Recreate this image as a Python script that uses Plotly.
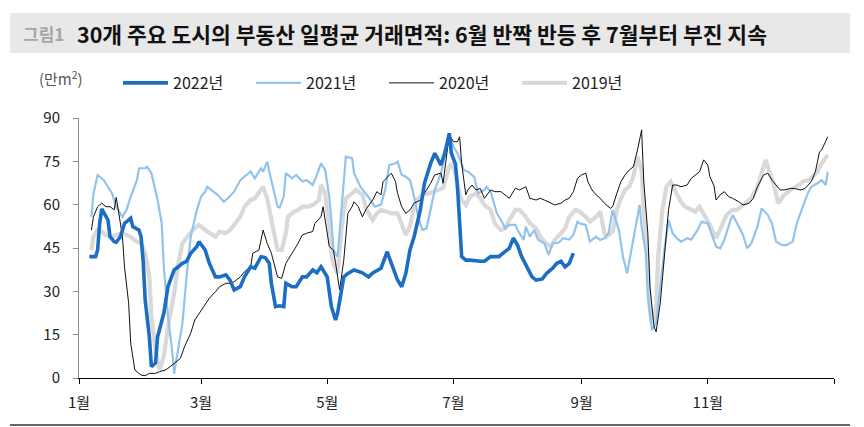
import plotly.graph_objects as go

# x = day of year (0 = Jan 1), y = 만m²
s2022 = [(5,42),(8,42),(9,44.3),(10,53.6),(11,58.5),(13,55.8),(14,54.7),(15,48.9),(17,47.2),(18,47),
         (20,48.9),(22,53.5),(25,55.3),(26,52.4),(29,51.2),(30,48.9),(31,40.8),(32,27),(34,14.3),(35,3.9),
         (37,5.2),(38,14.3),(41,22.4),(43,31.6),(46,37.4),(48,38.5),(50,39.7),(52,40.4),(54,43.2),(57,45.5),
         (58,47.2),(61,44.3),(63,39.7),(66,35),(68,35),(71,35.7),(73,33.9),(75,30.5),(78,31.6),(80,35),
         (83,38.5),(85,38),(88,42),(90,41.7),(92,39.7),(93,32.8),(95,24.7),(97,25),(99,24.7),(100,32.8),
         (103,31.6),(105,31.6),(108,35),(110,35),(113,37.4),(115,36.4),(117,38.5),(120,35),(122,24.7),(124,20.1),
         (125,22.4),(128,35),(130,36.2),(133,37.4),(135,36.9),(137,36.4),(140,35),(142,36.4),(146,38),(149,43.7),
         (151,39.7),(154,33.9),(156,31.6),(158,36.2),(160,44.3),(162,48.9),(165,58.2),(167,67.4),(170,74.3),(172,77.8),
         (175,73.7),(177,78.3),(179,84.7),(180,77.8),(182,74),(183,66),(185,42),(187,40.8),(189,40.8),(192,40.4),
         (194,40.4),(196,40.4),(199,42),(201,42),(203,42),(205,43.2),(208,44.9),(210,48.4),(212,46),(214,42),
         (217,37.4),(219,35),(221,33.9),(224,34.3),(226,36.2),(229,38),(231,39.7),(233,40.4),(235,38.5),(237,39.7),
         (239,43.2)]

s2021 = [(6,55.8),(7,63.9),(9,70.3),(12,68.5),(14,66.2),(16,63.9),(18,59.3),(21,55.8),(23,58.2),(25,62.8),
         (28,68.5),(29,72.6),(32,72.6),(33,73.1),(35,70.9),(37,65.1),(38,61.6),(40,53.5),(41,38.5),(43,21.2),
         (45,9.7),(46,1.5),(48,9.7),(50,18.9),(52,35),(54,48.9),(57,58.2),(59,62.8),(61,64.5),(62,66.2),
         (65,64.5),(67,63.4),(70,61),(72,62.2),(75,64.5),(78,68.5),(80,69.7),(83,71.4),(85,69.1),(88,72.6),
         (89,71.4),(91,74.9),(92,71.4),(94,65.1),(96,59.3),(97,59),(99,62.8),(100,70.9),(103,69.1),(105,70.3),
         (108,68),(110,68.5),(113,66.8),(115,70.3),(117,74.3),(119,72),(121,62.8),(122,54.7),(123,44.3),(125,42),
         (127,58.2),(129,76.6),(132,76.1),(133,70.9),(136,66.2),(138,64.5),(141,61.6),(143,59.3),(146,60),(148,65.1),
         (150,73.7),(153,74.3),(154,74.9),(156,70.3),(158,69.7),(160,68.5),(162,62.8),(164,55.8),(166,51.2),(168,51.8),
         (170,58.2),(172,65.1),(175,70.9),(177,77.8),(179,84.1),(181,80.1),(183,77.8),(186,72),(188,71.4),(191,69.7),
         (193,63.9),(196,65.1),(197,66.2),(199,64.5),(200,62.2),(202,57),(204,54.7),(206,51.8),(208,53),(211,53),
         (212,51.2),(215,47.8),(216,52.4),(218,48.9),(220,51.2),(222,47.8),(225,46.6),(227,42.6),(229,46.6),(232,46.9),
         (234,48.4),(237,47.9),(239,49.5),(241,54.1),(242,53.5),(245,53),(247,47.2),(250,48.9),(252,47.8),(254,48.4),
         (256,50.1),(258,58.2),(261,51.2),(263,42),(265,36.2),(267,44.3),(270,57),(271,59.9),(272,52.4),(274,43.2),
         (275,28.1),(277,16.6),(279,18.9),(281,32.8),(283,44.3),(285,54.7),(287,50.1),(289,48.4),(291,47.2),(294,48.4),
         (296,47.9),(299,51.2),(301,54.1),(304,53.5),(306,49.5),(308,45.5),(310,44.9),(312,47.8),(315,54.7),(316,56.4),
         (319,52.4),(321,49.5),(323,44.9),(325,46.6),(328,52.4),(330,58.7),(333,56.4),(335,53.5),(337,47.2),(340,46),
         (342,46),(345,47.2),(347,53.5),(349,57.6),(352,63.4),(354,66.2),(357,67.4),(359,68.5),(361,66.8),(362,71.4)]

s2020 = [(6,51.2),(7,55.8),(9,59.3),(11,60.5),(13,59.3),(15,59.3),(17,58.2),(18,62.5),(19,58.2),(21,48.9),
         (22,38.5),(24,25.9),(25,12),(27,2.8),(30,1),(32,0.8),(34,1.6),(37,1.6),(39,2.2),(42,2.8),
         (44,3.9),(46,5.1),(49,6.8),(51,10.8),(54,15.5),(56,20.1),(59,23.5),(61,25.3),(63,27.6),(66,29.9),
         (68,31.6),(71,32.8),(73,32.8),(75,33.3),(78,35),(80,36.8),(83,38.5),(84,43.2),(87,44.3),(89,51.2),
         (91,46.6),(93,43.2),(96,35),(98,34.5),(100,39.7),(103,43.2),(105,45.5),(108,49.5),(110,50.1),(113,50.7),
         (114,53.5),(117,55.8),(118,59.3),(121,45.5),(123,44.3),(124,40),(126,30.5),(128,40.8),(130,57),(132,59.3),
         (133,61),(135,59.3),(137,55.8),(139,58.7),(142,61.6),(144,64.5),(146,63.4),(147,68),(150,70.3),(151,70.9),
         (153,68),(154,63.9),(156,59.3),(158,57),(160,58.2),(162,60.5),(165,61.6),(167,63.9),(170,67.4),(172,70.3),
         (175,70.9),(176,67.4),(178,77.8),(179,84.1),(181,81.8),(183,81.8),(184,83.5),(185,74.3),(187,63.4),(188,65.1),
         (190,66.8),(192,65.1),(194,65.6),(196,62.2),(199,65.1),(201,64.5),(204,64.5),(206,63.4),(208,62.2),(211,65.7),
         (213,65.1),(216,66.2),(218,62.2),(221,61.6),(223,62.2),(225,61.6),(228,60.5),(230,59.9),(233,60.5),(235,61.6),
         (237,62.2),(239,64.5),(241,69.1),(243,70.3),(245,70.9),(246,68),(248,65.1),(250,63.4),(252,62.2),(254,60.5),
         (257,58.7),(258,59.3),(260,63.9),(262,68),(264,70.3),(266,72),(268,73.1),(270,78.9),(272,85.9),(273,68.5),
         (275,50.1),(276,31.6),(278,17.8),(279,16),(281,25.9),(283,42),(285,58.2),(287,66.8),(289,66.8),(291,66.2),
         (294,66.8),(296,69.1),(299,70.9),(300,71.4),(302,75.5),(304,73.7),(305,69.7),(307,66.5),(308,61.6),(310,63.4),
         (312,64.5),(314,62.8),(316,62.2),(319,61),(321,59.9),(324,60.5),(326,62.2),(328,66.2),(331,70.3),(333,70.9),
         (335,68.5),(337,66.8),(339,65.1),(341,65.1),(344,65.6),(346,65.6),(349,65.1),(351,65.6),(354,68),(356,71.4),
         (358,78.3),(359,78.9),(361,81.8),(362,83.5)]

s2019 = [(6,44.3),(7,48.9),(9,51.2),(11,50.7),(13,49.5),(16,48.9),(18,49.5),(21,50.1),(23,49.5),(25,48.9),
         (28,47.2),(30,46.6),(32,43.2),(34,35),(35,21.2),(37,9.7),(39,2.8),(41,7.4),(43,17.8),(46,29.3),
         (48,39.7),(50,46.6),(53,49.5),(55,51.2),(58,53),(60,51.8),(62,50.7),(66,48.9),(68,50.7),(71,50.1),
         (73,51.2),(75,53),(78,55.8),(80,59.3),(83,61.6),(85,62.2),(88,65.1),(89,66.2),(91,62.2),(92,58.2),
         (94,51.2),(96,44.3),(98,44.3),(100,50.1),(101,55.8),(104,57.6),(106,58.2),(108,59.3),(111,59.3),(113,59.9),
         (116,61.6),(117,66.8),(119,63.9),(121,52.4),(122,43.2),(123,39.7),(125,36.2),(127,52.4),(129,62.2),(132,63.9),
         (134,65.1),(137,63.4),(139,58.2),(142,54.7),(144,57),(146,58.2),(149,57.6),(151,57),(154,57),(156,53.5),
         (158,49.5),(160,52.4),(162,59.3),(164,62.2),(166,63.4),(169,63.9),(171,64.5),(174,65.1),(176,65.7),(179,73.1),
         (180,74.3),(182,71),(183,66.2),(185,61.6),(187,59.9),(189,62.8),(192,63.9),(194,62.2),(196,59.9),(199,58.2),
         (201,53.5),(204,51.2),(206,51.8),(208,54.7),(211,58.2),(213,58.2),(216,55.8),(218,53.5),(221,51.8),(223,48.9),
         (225,47.2),(228,45.5),(230,47.8),(233,50.1),(235,51.8),(237,55.8),(240,58.2),(242,57.6),(245,55.8),(247,54.1),
         (250,55.8),(252,57.6),(254,50.1),(255,48.9),(258,50.7),(260,58.2),(262,62.2),(264,65.1),(266,66.2),(268,69.7),
         (270,76.6),(272,72),(273,58.2),(275,40.8),(276,23.5),(277,18.9),(279,24.7),(280,42),(282,58.2),(284,66.2),
         (286,68),(288,65.1),(291,61),(293,59.3),(296,58.2),(298,57.6),(300,59.3),(303,55.8),(305,53),(307,50.1),
         (308,48.4),(311,53),(313,56.4),(316,58.2),(318,58.2),(320,59.3),(323,61),(325,62.2),(328,66.2),(330,71.4),
         (332,75.5),(334,70.9),(336,66.8),(338,60.5),(341,63.4),(343,64.5),(345,65.7),(348,66.8),(350,68),(353,68.5),
         (354,69.1),(357,71.4),(359,74.3),(362,77.2)]

month_ticks = [0, 59, 120, 181, 243, 304]
month_labels = ["1월", "3월", "5월", "7월", "9월", "11월"]
end_tick = [365]
y_ticks = [0, 15, 30, 45, 60, 75, 90]

FONT = "Noto Sans CJK KR"

series = [
    ("2019년", s2019, "#d9d9d9", 4.2, 4),
    ("2021년", s2021, "#93c3ec", 2.2, 2),
    ("2020년", s2020, "#111111", 1.0, 3),
    ("2022년", s2022, "#1b6ec2", 3.6, 1),
]

fig = go.Figure()
for name, data, color, width, rank in series:
    fig.add_trace(go.Scatter(
        x=[d for d, _ in data], y=[v for _, v in data],
        mode="lines", name=name, legendrank=rank,
        line=dict(color=color, width=width),
        hoverinfo="skip",
    ))

L, R, T, B = 79, 30, 118, 49
W, H = 864, 427
pw, ph = W - L - R, H - T - B

def px(x):
    return (x - L) / pw

def py(y):
    return (H - B - y) / ph

fig.update_layout(
    width=W, height=H,
    margin=dict(l=L, r=R, t=T, b=B),
    paper_bgcolor="white", plot_bgcolor="white",
    font=dict(family=FONT, size=15, color="#222"),
    showlegend=True,
    legend=dict(
        orientation="h", x=px(118), y=py(83), xanchor="left", yanchor="middle",
        font=dict(family=FONT, size=16, color="#222"),
        entrywidth=73, entrywidthmode="pixels", itemwidth=45,
        bgcolor="rgba(0,0,0,0)", traceorder="normal",
    ),
    xaxis=dict(
        range=[0, 365], tickmode="array", tickvals=month_ticks, ticktext=month_labels,
        showline=True, linecolor="#000", linewidth=1, ticks="outside", ticklen=5,
        tickcolor="#000", showgrid=False, zeroline=False,
        minor=dict(tickmode="array", tickvals=end_tick, ticks="outside", ticklen=5,
                   tickcolor="#000", showgrid=False),
        tickfont=dict(family=FONT, size=15, color="#222"), ticklabelstandoff=6,
    ),
    yaxis=dict(
        range=[0, 90], tickmode="array", tickvals=y_ticks,
        showline=True, linecolor="#8c8c8c", linewidth=1, ticks="outside", ticklen=5,
        tickcolor="#8c8c8c", showgrid=False, zeroline=False,
        tickfont=dict(family=FONT, size=15, color="#222"), ticklabelstandoff=10,
    ),
    shapes=[
        dict(type="rect", xref="paper", yref="paper", x0=px(10), x1=px(850), y0=py(53), y1=py(13),
             fillcolor="#e8e8e8", line=dict(width=0), layer="below"),
        dict(type="line", xref="paper", yref="paper", x0=px(10), x1=px(850), y0=py(425), y1=py(425),
             line=dict(color="#333", width=1.5)),
    ],
    annotations=[
        dict(text="<b>그림1</b>", xref="paper", yref="paper", x=px(21), y=py(33),
             xanchor="left", yanchor="middle", showarrow=False,
             font=dict(family=FONT, size=17, color="#a6a6a6")),
        dict(text="<b>30개 주요 도시의 부동산 일평균 거래면적: 6월 반짝 반등 후 7월부터 부진 지속</b>",
             xref="paper", yref="paper", x=px(75), y=py(33),
             xanchor="left", yanchor="middle", showarrow=False,
             font=dict(family=FONT, size=21.5, color="#111")),
        dict(text="(만m<sup>2</sup>)", xref="paper", yref="paper", x=px(37), y=py(78),
             xanchor="left", yanchor="middle", showarrow=False,
             font=dict(family=FONT, size=15, color="#555")),
    ],
)

fig.write_html("out.html")
